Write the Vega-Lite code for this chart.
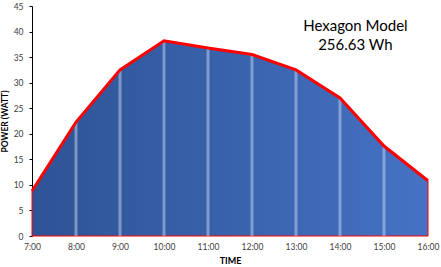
{
  "$schema": "https://vega.github.io/schema/vega-lite/v6.json",
  "width": 396,
  "height": 230,
  "autosize": {"type": "none"},
  "padding": {"left": 32, "top": 6, "right": 13, "bottom": 31},
  "background": "white",
  "config": {
    "view": {"stroke": null},
    "font": "Lato",
    "axisX": {
      "titleFont": "Lato", "titleFontSize": 9, "titleFontWeight": "bold", "titleColor": "#000000", "titlePadding": 6,
      "labelFontSize": 8.5, "labelColor": "#404040", "labelPadding": 6, "labelOverlap": false, "labelFlush": false,
      "ticks": false, "domain": false, "grid": false
    },
    "axisY": {
      "titleFont": "Lato", "titleFontSize": 8.5, "titleFontWeight": "bold", "titleColor": "#000000", "titlePadding": 4,
      "labelFontSize": 8.5, "labelColor": "#404040", "labelPadding": 6, "labelOverlap": false, "labelFlush": false,
      "tickSize": 3, "tickColor": "#000000", "domainColor": "#000000", "grid": false
    }
  },
  "datasets": {
    "power": [
      {"hour": 7, "watt": 8.8},
      {"hour": 8, "watt": 22.3},
      {"hour": 9, "watt": 32.5},
      {"hour": 10, "watt": 38.2},
      {"hour": 11, "watt": 36.8},
      {"hour": 12, "watt": 35.5},
      {"hour": 13, "watt": 32.5},
      {"hour": 14, "watt": 27.0},
      {"hour": 15, "watt": 17.6},
      {"hour": 16, "watt": 10.8}
    ],
    "label": [
      {"hour": 14.35, "watt": 41.0, "text": "Hexagon Model"},
      {"hour": 14.35, "watt": 37.3, "text": "256.63 Wh"}
    ]
  },
  "encoding": {
    "x": {
      "field": "hour", "type": "quantitative",
      "scale": {"domain": [7, 16], "nice": false, "zero": false},
      "axis": {"title": "TIME", "values": [7, 8, 9, 10, 11, 12, 13, 14, 15, 16], "labelExpr": "datum.value + ':00'"}
    },
    "y": {
      "field": "watt", "type": "quantitative",
      "scale": {"domain": [0, 45], "nice": false},
      "axis": {"title": "POWER (WATT)", "values": [0, 5, 10, 15, 20, 25, 30, 35, 40, 45]}
    }
  },
  "layer": [
    {
      "data": {"name": "power"},
      "mark": {
        "type": "area",
        "stroke": "#FF0000",
        "strokeWidth": 1,
        "color": {
          "gradient": "linear",
          "x1": 0, "x2": 1, "y1": 0, "y2": 0,
          "stops": [
            {"offset": 0, "color": "#2E5395"},
            {"offset": 1, "color": "#4572C4"}
          ]
        },
        "fillOpacity": 1
      }
    },
    {
      "data": {"name": "power"},
      "transform": [{"filter": "datum.hour > 7 && datum.hour < 16"}],
      "mark": {"type": "rule", "color": "#C8D6F2", "opacity": 0.5, "strokeWidth": 3},
      "encoding": {
        "y2": {"datum": 0}
      }
    },
    {
      "data": {"name": "power"},
      "mark": {"type": "line", "color": "#FF0000", "strokeWidth": 3}
    },
    {
      "data": {"name": "label"},
      "mark": {"type": "text", "fontSize": 15, "font": "Lato", "color": "#000000", "align": "center", "baseline": "middle"},
      "encoding": {
        "text": {"field": "text"}
      }
    }
  ]
}
